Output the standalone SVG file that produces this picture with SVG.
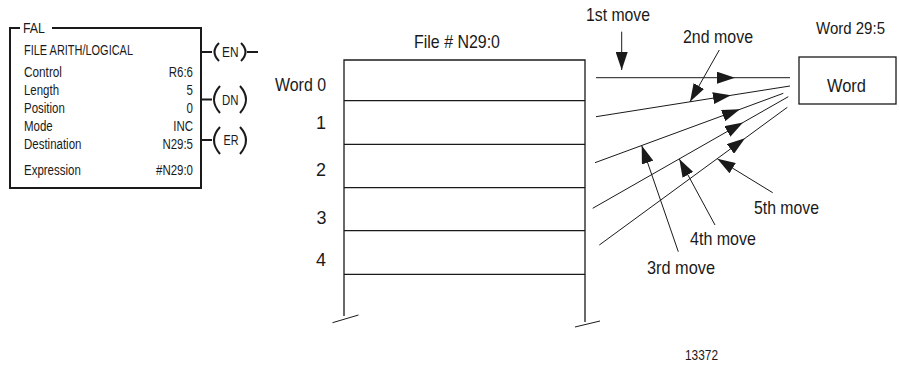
<svg xmlns="http://www.w3.org/2000/svg" width="899" height="366" viewBox="0 0 899 366">
<style>
text{font-family:"Liberation Sans",Arial,sans-serif;fill:#1a1a1a}
.s{font-size:14px}
.b{font-size:18.5px}
.thick{stroke:#1a1a1a;stroke-width:2;fill:none}
.tbl{stroke:#1a1a1a;stroke-width:1.3;fill:none}
.ln{stroke:#1a1a1a;stroke-width:1;fill:none}
</style>
<defs>
<marker id="ah" viewBox="0 -6 18 12" markerWidth="18" markerHeight="12" refX="18" refY="0" orient="auto" markerUnits="userSpaceOnUse">
<path d="M0,-6 L18,0 L0,6 z" fill="#1a1a1a"/>
</marker>
</defs>
<g id="fal">
<path class="thick" d="M20,28 H10 V188 H201 V28 H52"/>
<text class="s" x="23" y="33" textLength="22" lengthAdjust="spacingAndGlyphs">FAL</text>
<text class="s" x="24" y="55" textLength="109" lengthAdjust="spacingAndGlyphs">FILE ARITH/LOGICAL</text>
<text class="s" x="24" y="77" textLength="38" lengthAdjust="spacingAndGlyphs">Control</text>
<text class="s" x="168.8" y="77" textLength="24.2" lengthAdjust="spacingAndGlyphs">R6:6</text>
<text class="s" x="24" y="95" textLength="35" lengthAdjust="spacingAndGlyphs">Length</text>
<text class="s" x="186.6" y="95" textLength="6.4" lengthAdjust="spacingAndGlyphs">5</text>
<text class="s" x="24" y="113" textLength="40.8" lengthAdjust="spacingAndGlyphs">Position</text>
<text class="s" x="186.6" y="113" textLength="6.4" lengthAdjust="spacingAndGlyphs">0</text>
<text class="s" x="24" y="131" textLength="28.7" lengthAdjust="spacingAndGlyphs">Mode</text>
<text class="s" x="173.2" y="131" textLength="19.8" lengthAdjust="spacingAndGlyphs">INC</text>
<text class="s" x="24" y="149" textLength="57.4" lengthAdjust="spacingAndGlyphs">Destination</text>
<text class="s" x="162.4" y="149" textLength="30.6" lengthAdjust="spacingAndGlyphs">N29:5</text>
<text class="s" x="24" y="175" textLength="56.8" lengthAdjust="spacingAndGlyphs">Expression</text>
<text class="s" x="156" y="175" textLength="37" lengthAdjust="spacingAndGlyphs">#N29:0</text>
</g>
<g id="coil-en">
<path class="thick" d="M201,52 H212 M219,43 Q210,52 219,61 M241,43 Q250,52 241,61 M247,52 H258"/>
<text class="s" x="222" y="57" textLength="16.5" lengthAdjust="spacingAndGlyphs">EN</text>
</g>
<g id="coil-dn">
<path class="thick" d="M201,99.5 H212 M220,86 Q208,99.5 220,113 M240,86 Q252,99.5 240,113"/>
<text class="s" x="222" y="105" textLength="16.5" lengthAdjust="spacingAndGlyphs">DN</text>
</g>
<g id="coil-er">
<path class="thick" d="M201,140 H212 M220,127 Q208,140 220,154 M240,127 Q252,140 240,154"/>
<text class="s" x="223.5" y="145" textLength="15" lengthAdjust="spacingAndGlyphs">ER</text>
</g>
<g id="file">
<text class="b" x="414" y="48" textLength="86" lengthAdjust="spacingAndGlyphs">File # N29:0</text>
<path class="tbl" d="M344,316 V60 H585 V322 M344,100.7 H585 M344,144.3 H585 M344,187.7 H585 M344,230.7 H585 M344,274.3 H585"/>
<path class="ln" d="M332.5,322.7 L358.5,315 M575,327 L600,321"/>
<text class="b" x="275" y="91" textLength="51" lengthAdjust="spacingAndGlyphs">Word 0</text>
<text class="b" x="316" y="129" textLength="10" lengthAdjust="spacingAndGlyphs">1</text>
<text class="b" x="316" y="176" textLength="10" lengthAdjust="spacingAndGlyphs">2</text>
<text class="b" x="316.5" y="224" textLength="10" lengthAdjust="spacingAndGlyphs">3</text>
<text class="b" x="316" y="266" textLength="10" lengthAdjust="spacingAndGlyphs">4</text>
</g>
<g id="word">
<text x="816" y="34" style="font-size:17px" textLength="69" lengthAdjust="spacingAndGlyphs">Word 29:5</text>
<rect class="tbl" x="799" y="57" width="97" height="47"/>
<text class="b" x="827" y="92" textLength="39" lengthAdjust="spacingAndGlyphs">Word</text>
</g>
<g id="connectors">
<polyline class="ln" points="596,77.7 735,77.7 790,77.7" marker-mid="url(#ah)"/>
<polyline class="ln" points="596,116.7 731,95.3 790,86" marker-mid="url(#ah)"/>
<polyline class="ln" points="595,162.7 740,109.3 783.3,93.3" marker-mid="url(#ah)"/>
<polyline class="ln" points="592.7,208.3 743,122.5 788.3,96.7" marker-mid="url(#ah)"/>
<polyline class="ln" points="599.3,245 745,138.3 787.3,107.3" marker-mid="url(#ah)"/>
<line class="ln" x1="621.7" y1="31.7" x2="621.7" y2="70" marker-end="url(#ah)"/>
<line class="ln" x1="719.3" y1="50" x2="690" y2="101.7" marker-end="url(#ah)"/>
<line class="ln" x1="678.3" y1="251.7" x2="641.7" y2="145.5" marker-end="url(#ah)"/>
<line class="ln" x1="715" y1="225" x2="679.3" y2="159" marker-end="url(#ah)"/>
<line class="ln" x1="772.7" y1="192.7" x2="717.3" y2="158.8" marker-end="url(#ah)"/>
</g>
<g id="labels">
<text class="b" x="586" y="21" textLength="64" lengthAdjust="spacingAndGlyphs">1st move</text>
<text class="b" x="683" y="43" textLength="70" lengthAdjust="spacingAndGlyphs">2nd move</text>
<text class="b" x="754" y="214" textLength="65" lengthAdjust="spacingAndGlyphs">5th move</text>
<text class="b" x="690" y="245" textLength="66" lengthAdjust="spacingAndGlyphs">4th move</text>
<text class="b" x="647" y="274" textLength="68" lengthAdjust="spacingAndGlyphs">3rd move</text>
<text style="font-size:15px" x="685" y="360" textLength="33" lengthAdjust="spacingAndGlyphs">13372</text>
</g>
</svg>
